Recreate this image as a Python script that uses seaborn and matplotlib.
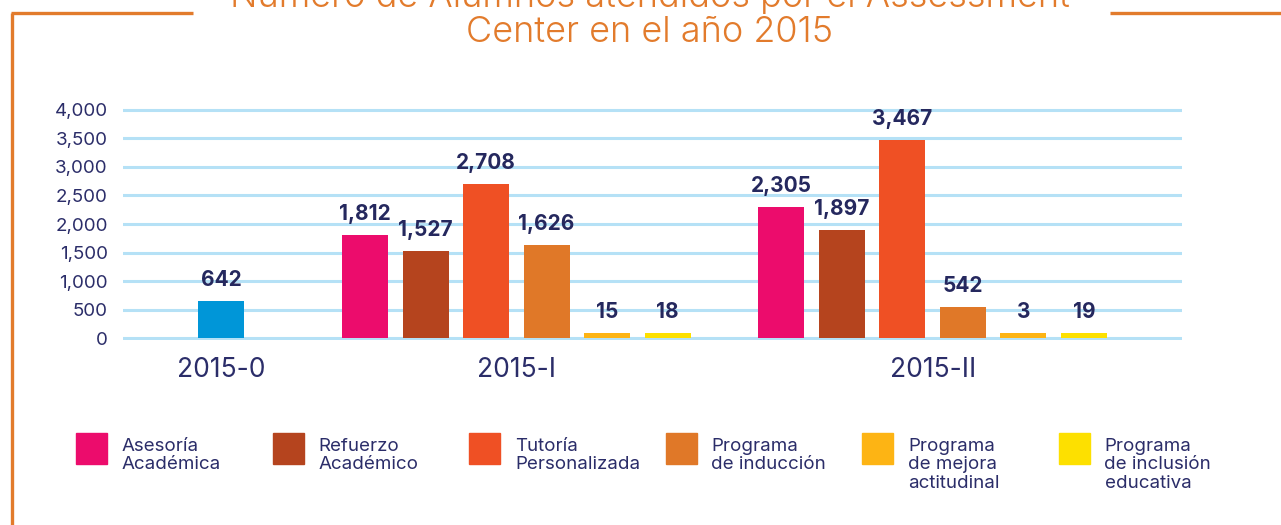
import matplotlib
matplotlib.use("Agg")
import matplotlib.pyplot as plt
import numpy as np
import pandas as pd
import seaborn as sns
from matplotlib.lines import Line2D
from matplotlib.patches import Rectangle

# data
GROUPS = ["2015-0", "2015-I", "2015-II"]
PROGRAMS = [
    "Asesoría\nAcadémica",
    "Refuerzo\nAcadémico",
    "Tutoría\nPersonalizada",
    "Programa\nde inducción",
    "Programa\nde mejora\nactitudinal",
    "Programa\nde inclusión\neducativa",
]
GENERAL = "General"
values_2015_0 = [642]
values_2015_I = [1812, 1527, 2708, 1626, 15, 18]
values_2015_II = [2305, 1897, 3467, 542, 3, 19]
y_ticks = [0, 500, 1000, 1500, 2000, 2500, 3000, 3500, 4000]

TITLE_1 = "Número de Alumnos atendidos por el Assessment"
TITLE_2 = "Center en el año 2015"

COLORS = ["#EC0C6C", "#B5441E", "#EF5024", "#E07828", "#FDB414", "#FDE000"]
COLOR_GENERAL = "#0096D8"
NAVY = "#2B2D69"
ORANGE = "#E27B2C"
GRID = "#B5E1F6"

# layout: slot offsets of each group on the x axis
GROUP_START = {"2015-0": -2.38, "2015-I": 0.0, "2015-II": 6.88}
MIN_VISIBLE = 90

plt.rcParams["font.family"] = ["Inter", "DejaVu Sans"]

rows = [{"group": "2015-0", "program": GENERAL, "value": values_2015_0[0], "pos": GROUP_START["2015-0"]}]
for grp, vals in (("2015-I", values_2015_I), ("2015-II", values_2015_II)):
    for i, (prog, v) in enumerate(zip(PROGRAMS, vals)):
        rows.append({"group": grp, "program": prog, "value": v, "pos": GROUP_START[grp] + i})
df = pd.DataFrame(rows)
df["shown"] = np.maximum(df["value"], MIN_VISIBLE)

palette = dict(zip(PROGRAMS, COLORS))
palette[GENERAL] = COLOR_GENERAL

W, H = 1281, 525
fig = plt.figure(figsize=(W / 100, H / 100), dpi=100)
ax = fig.add_axes([123 / W, 1 - 340.3 / H, (1182 - 123) / W, (340.3 - 107.7) / H])

sns.barplot(
    data=df,
    x="pos",
    y="shown",
    hue="program",
    palette=palette,
    native_scale=True,
    dodge=False,
    width=0.76,
    legend=False,
    saturation=1,
    ax=ax,
)

for _, r in df.iterrows():
    ax.annotate(
        f"{r['value']:,}",
        xy=(r["pos"], r["shown"]),
        xytext=(0, 8),
        textcoords="offset points",
        ha="center",
        va="bottom",
        fontsize=15,
        fontweight="bold",
        color="#25285E",
    )

ax.set_ylim(-40, 4040)
ax.set_xlim(-4.0, 13.5)
ax.set_yticks(y_ticks)
ax.set_yticklabels([f"{t:,}" for t in y_ticks], fontsize=13.5, color=NAVY)
for t in y_ticks:
    ax.axhline(t, color=GRID, lw=2.2, zorder=0)

centers = [GROUP_START[g] + (len(values_2015_I) - 1) / 2 if g != "2015-0" else GROUP_START[g] for g in GROUPS]
ax.set_xticks(centers)
ax.set_xticklabels(GROUPS, fontsize=19, color=NAVY)
ax.tick_params(axis="y", length=0, pad=11)
ax.tick_params(axis="x", length=0, pad=12)
ax.set_xlabel("")
ax.set_ylabel("")
for s in ax.spines.values():
    s.set_visible(False)
ax.set_axisbelow(True)

# title
fig.text(650 / W, 1 - 7 / H, TITLE_1, ha="center", va="baseline", fontsize=26,
         color=ORANGE, fontweight=300)
fig.text(650 / W, 1 - 42 / H, TITLE_2, ha="center", va="baseline", fontsize=26,
         color=ORANGE, fontweight=300)

# frame
frame_kw = dict(transform=fig.transFigure, color=ORANGE, lw=2.4, solid_capstyle="butt")
fig.add_artist(Line2D([12 / W, 12 / W], [0, 1 - 13 / H], **frame_kw))
fig.add_artist(Line2D([11 / W, 193 / W], [1 - 13 / H, 1 - 13 / H], **frame_kw))
fig.add_artist(Line2D([1110 / W, 1], [1 - 13 / H, 1 - 13 / H], **frame_kw))

# legend
for i, (prog, col) in enumerate(zip(PROGRAMS, COLORS)):
    x0 = 76 + i * 196.5
    fig.add_artist(Rectangle((x0 / W, 1 - 464 / H), 31 / W, 31 / H,
                             transform=fig.transFigure, color=col))
    fig.text((x0 + 46) / W, 1 - 438 / H, prog, ha="left", va="top",
             fontsize=13.5, color=NAVY, linespacing=1.1)

fig.savefig("out.png", dpi=100)
